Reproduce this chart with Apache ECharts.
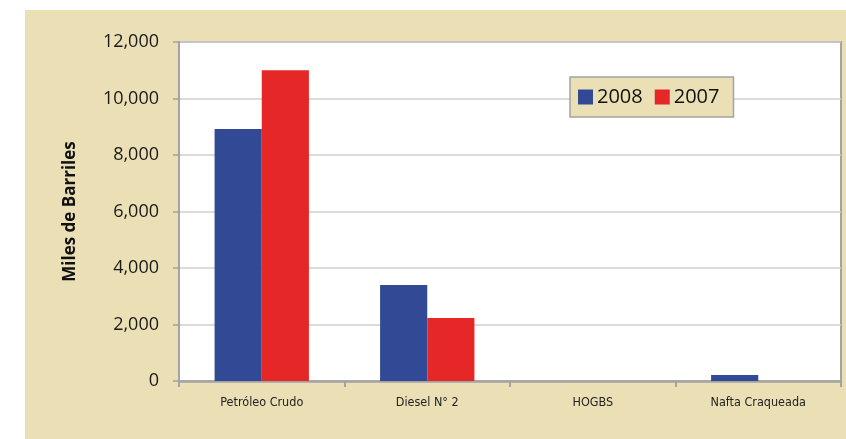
<!DOCTYPE html>
<html>
<head>
<meta charset="utf-8">
<script src="https://cdn.jsdelivr.net/npm/echarts@6/dist/echarts.min.js"></script>
<style>
  html, body { margin: 0; padding: 0; background: #fff; }
  #chart { width: 846px; height: 439px; }
</style>
</head>
<body>
<div id="chart"></div>
<script>
// datos
const categories = ['Petróleo Crudo', 'Diesel N° 2', 'HOGBS', 'Nafta Craqueada'];
const values2008 = [8920, 3400, 0, 210];
const values2007 = [11000, 2230, 0, 0];
const yTicks = [0, 2000, 4000, 6000, 8000, 10000, 12000];

const chart = echarts.init(document.getElementById('chart'));
chart.setOption({
  animation: false,
  backgroundColor: '#fff',
  graphic: [
    {
      type: 'rect', z: -10, silent: true,
      shape: { x: 25, y: 10, width: 821, height: 429 },
      style: { fill: '#ebe0b5' }
    }
  ],
  grid: {
    left: 179, top: 42, width: 662, height: 339,
    show: true,
    backgroundColor: '#fff',
    borderColor: '#a3a3a3',
    borderWidth: 2
  },
  legend: {
    data: ['2008', '2007'],
    left: 570, top: 77,
    width: 166, height: 42,
    backgroundColor: '#ebe0b5',
    borderColor: '#a3a3a3',
    borderWidth: 1.5,
    borderRadius: 0,
    padding: [10, 14, 10, 8],
    itemGap: 12,
    itemWidth: 15, itemHeight: 15,
    icon: 'rect',
    textStyle: { fontFamily: 'Open Sans', fontSize: 20, color: '#111', padding: [0, 0, 0, -1] }
  },
  xAxis: {
    type: 'category',
    data: categories,
    axisLine: { lineStyle: { color: '#a3a3a3', width: 2.5 } },
    axisTick: { show: true, length: 6, lineStyle: { color: '#a3a3a3', width: 2 } },
    axisLabel: {
      margin: 15,
      fontFamily: 'DejaVu Sans Condensed',
      fontSize: 12.5,
      color: '#222'
    }
  },
  yAxis: {
    type: 'value',
    min: yTicks[0], max: yTicks[yTicks.length - 1], interval: 2000,
    name: 'Miles de Barriles',
    nameLocation: 'middle',
    nameGap: 100,
    nameTextStyle: { fontFamily: 'Open Sans', fontWeight: 'bold', fontSize: 17, color: '#111' },
    axisLine: { show: true, lineStyle: { color: '#a3a3a3', width: 2 } },
    axisTick: { show: true, length: 6, lineStyle: { color: '#a3a3a3', width: 1.5 } },
    splitLine: { lineStyle: { color: '#cfcfcf', width: 1.5 } },
    axisLabel: {
      margin: 20,
      fontFamily: 'Open Sans',
      fontSize: 18,
      color: '#1a1a1a',
      formatter: v => v.toLocaleString('en-US')
    }
  },
  series: [
    {
      name: '2008', type: 'bar', data: values2008,
      itemStyle: { color: '#324a96' },
      barGap: '0%', barCategoryGap: '43%'
    },
    {
      name: '2007', type: 'bar', data: values2007,
      itemStyle: { color: '#e62727' },
      barGap: '0%', barCategoryGap: '43%'
    }
  ]
});
</script>
</body>
</html>
